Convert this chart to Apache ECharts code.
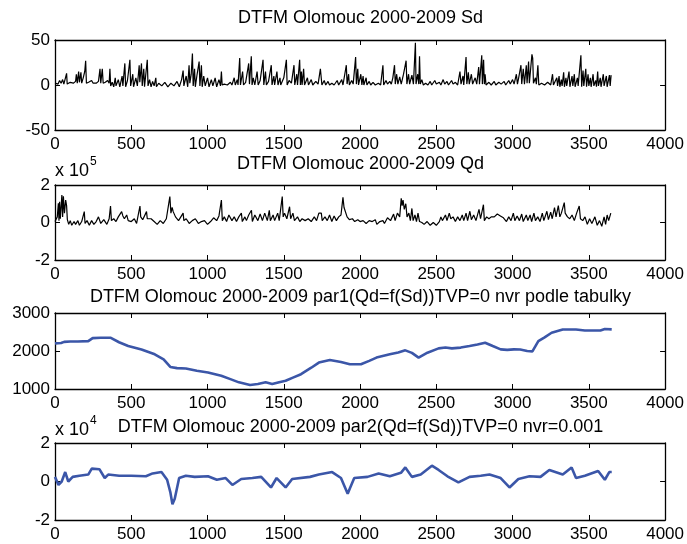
<!DOCTYPE html>
<html><head><meta charset="utf-8">
<script src="https://cdn.jsdelivr.net/npm/echarts@6/dist/echarts.min.js"></script>
<style>html,body{margin:0;padding:0;background:#fff}#c{width:687px;height:544px}</style>
</head><body><div id="c"></div>
<script>
// ---- data ----
const xTicks = [0, 500, 1000, 1500, 2000, 2500, 3000, 3500, 4000];
const titles = [
  'DTFM Olomouc 2000-2009 Sd',
  'DTFM Olomouc 2000-2009 Qd',
  'DTFM Olomouc 2000-2009 par1(Qd=f(Sd))TVP=0 nvr podle tabulky',
  'DTFM Olomouc 2000-2009 par2(Qd=f(Sd))TVP=0 nvr=0.001'
];
const sdTicks = [-50, 0, 50];
const qdTicks = [-2, 0, 2];      // x 10^5
const par1Ticks = [1000, 2000, 3000];
const par2Ticks = [-2, 0, 2];    // x 10^4

// Sd: [day, value]
const sd = [[0,2],[10,4],[20,1],[30,5],[40,2],[50,6],[58,1],[70,3],[76,13],[80,1],[100,3],[120,2],[135,4],[140,12],[146,2],[155,15],[160,3],[170,14],[175,2],[185,8],[195,15],[201,27],[206,2],[220,3],[240,5],[250,2],[270,2],[285,4],[295,18],[300,2],[310,18],[316,2],[330,3],[345,5],[355,2],[360,18],[365,-1],
[375,3],[385,-2],[395,8],[400,-1],[415,6],[425,-2],[440,10],[445,-1],[458,24],[463,-2],[475,5],[491,28],[496,-1],[510,12],[515,-2],[530,8],[540,-1],[552,22],[556,3],[567,24],[572,-1],[582,18],[587,-2],[605,28],[610,-1],[620,6],[630,-2],[640,4],[650,-1],[661,8],[665,-2],
[680,2],[700,-1],[720,3],[740,-2],[760,2],[780,-1],[800,4],[815,-2],[830,6],[840,16],[845,-1],[860,10],[870,-2],[879,22],[884,2],[893,12],[901,35],[906,-1],[915,18],[920,-2],[930,10],[945,26],[950,-1],[960,22],[965,-2],[975,10],[985,-1],[1000,8],[1010,-2],[1025,6],[1035,-1],[1050,8],[1060,-2],[1075,6],[1085,-1],[1091,15],[1096,0],
[1110,1],[1130,0],[1150,3],[1160,0],[1175,8],[1182,0],[1195,6],[1200,0],[1211,30],[1216,0],[1230,15],[1236,0],[1250,3],[1270,24],[1275,1],[1287,32],[1292,0],[1300,8],[1310,0],[1325,15],[1332,0],[1345,5],[1364,28],[1369,0],[1380,15],[1386,0],[1400,4],[1418,22],[1423,0],[1435,10],[1440,0],[1455,15],[1462,0],[1475,8],[1480,0],[1500,8],[1517,28],[1522,0],[1535,5],[1550,2],[1567,22],[1572,0],[1585,12],[1590,0],[1604,28],[1609,0],[1615,15],[1620,0],[1630,18],[1636,0],[1655,8],[1662,0],[1680,6],[1690,0],[1710,4],[1725,1],[1740,18],[1746,17],[1750,0],[1765,5],[1775,0],[1790,4],[1800,0],[1815,2],[1830,0],[1850,5],[1860,0],[1880,6],[1888,0],[1910,22],[1915,1],[1925,12],[1930,0],[1945,5],[1955,1],[1971,31],[1976,1],[1985,18],[1990,0],[2005,12],[2012,0],
[2020,10],[2025,0],[2040,8],[2045,0],[2060,4],[2070,0],[2085,3],[2100,0],[2120,2],[2135,0],[2150,22],[2155,0],[2170,5],[2180,1],[2195,4],[2205,1],[2215,8],[2226,22],[2231,1],[2240,12],[2248,1],[2260,9],[2270,1],[2285,12],[2302,27],[2307,1],[2318,12],[2325,1],[2340,11],[2350,1],[2363,47],[2367,1],[2378,12],[2385,1],[2390,32],[2395,1],[2405,6],[2415,0],[2430,2],[2445,0],
[2460,4],[2470,0],[2490,5],[2500,1],[2520,3],[2530,0],[2545,6],[2555,1],[2570,4],[2580,0],[2600,5],[2610,1],[2625,3],[2640,0],[2655,15],[2662,1],[2675,10],[2680,0],[2695,31],[2700,1],[2710,14],[2716,1],[2730,12],[2738,1],[2755,8],[2765,1],[2778,20],[2783,1],[2798,33],[2802,1],[2810,28],[2815,1],[2820,12],[2826,0],[2845,3],[2860,0],[2880,4],[2890,0],[2910,3],[2925,1],[2945,4],[2955,0],[2975,5],[2985,1],[3000,6],[3010,1],[3025,12],[3032,1],[3040,8],[3055,22],[3060,1],[3070,18],[3078,1],[3090,22],[3095,2],[3105,26],[3110,2],[3127,34],[3132,30],[3137,2],[3150,8],[3156,1],[3166,22],[3172,0],[3190,2],[3210,0],[3230,3],[3250,0],[3262,12],[3268,0],
[3280,-2],[3290,8],[3295,-1],[3305,10],[3310,-2],[3320,6],[3325,-1],[3335,14],[3340,-2],[3350,8],[3355,-1],[3370,15],[3376,-2],[3390,10],[3395,-1],[3405,12],[3410,-2],[3425,8],[3430,-1],[3448,33],[3453,-2],[3462,16],[3467,-1],[3480,18],[3485,-2],[3495,12],[3500,-1],[3510,8],[3515,-2],[3528,12],[3533,-1],[3545,5],[3550,-2],[3558,15],[3563,-1],[3575,8],[3580,-2],[3595,12],[3600,-1],[3615,10],[3620,-2],[3635,11],[3640,-1],[3646,11]];

// Qd (x 10^5): [day, value]
const qd = [[0,0.05],[8,-0.05],[15,0.3],[22,1.02],[26,0.1],[30,1.11],[35,0.2],[45,1.47],[50,0.3],[55,1.4],[62,0.5],[70,1.2],[76,0.9],[81,0.15],[90,-0.1],[100,0.1],[110,-0.15],[125,0.05],[135,-0.1],[150,0.1],[160,-0.15],[175,0.05],[192,0.58],[197,-0.05],[210,0.1],[225,-0.15],[240,0.1],[255,-0.1],[270,0.05],[285,0.3],[295,0.35],[300,-0.05],[320,0.15],[340,-0.1],[355,0.2],[364,0.88],[370,0.1],[385,0.2],[400,0.05],[415,0.3],[437,0.58],[445,0.35],[455,0.2],[470,0.4],[480,0.1],[500,0.05],[520,0.2],[535,-0.05],[557,0.88],[562,0.3],[575,0.15],[600,0.58],[605,0.2],[615,0.15],[630,0.2],[650,0.05],[670,-0.1],[690,0.1],[710,-0.05],[730,0.2],[753,1.38],[760,0.5],[768,0.8],[775,0.58],[790,0.3],[810,0.1],[840,0.5],[845,0.1],[860,0.2],[880,-0.05],[900,0.1],[920,0.2],[940,-0.05],[960,0.05],[980,0.1],[1000,-0.1],[1020,0.05],[1040,0.25],[1060,0.1],[1075,0.35],[1091,1.2],[1097,0.1],[1110,0.3],[1125,0.05],[1140,0.4],[1150,0.45],[1160,0.1],[1175,0.3],[1190,0.05],[1205,0.3],[1222,0.5],[1228,0.05],[1245,0.3],[1255,0.1],[1270,0.4],[1288,0.65],[1294,0.05],[1310,0.4],[1320,0.4],[1330,0.1],[1345,0.45],[1360,0.1],[1375,0.5],[1386,0.58],[1392,0.1],[1405,0.65],[1412,0.1],[1430,0.4],[1440,0.1],[1460,0.5],[1470,0.1],[1490,1.38],[1496,0.3],[1505,0.5],[1520,0.2],[1538,0.84],[1545,0.2],[1560,0.5],[1570,0.1],[1590,0.3],[1605,0.05],[1620,0.2],[1640,0.1],[1660,0.2],[1680,0.05],[1700,0.3],[1715,0.1],[1730,0.5],[1746,0.5],[1752,0.1],[1770,0.3],[1785,0.1],[1800,0.4],[1815,0.05],[1830,0.35],[1845,0.1],[1860,0.3],[1875,0.4],[1888,1.34],[1895,0.8],[1905,0.7],[1915,0.3],[1930,0.15],[1950,0.2],[1965,0.05],[1985,0.15],[2000,0.05],
[2020,0.1],[2040,-0.05],[2060,0.1],[2080,0.05],[2100,0.15],[2110,-0.1],[2130,0.05],[2150,0.1],[2160,-0.05],[2180,0.25],[2200,0.1],[2220,0.45],[2230,0.1],[2245,0.5],[2260,0.3],[2270,1.29],[2276,0.9],[2282,1.2],[2290,0.7],[2300,1.0],[2308,0.3],[2320,0.5],[2330,0.1],[2340,0.75],[2348,0.1],[2360,0.4],[2370,0.05],[2380,0.5],[2390,0.05],[2405,0.0],[2420,-0.1],[2440,0.05],[2460,-0.15],[2480,0.0],[2500,-0.15],[2520,0.05],[2530,0.3],[2540,0.1],[2560,0.4],[2570,0.1],[2585,0.5],[2595,0.2],[2610,0.3],[2625,0.05],[2640,0.3],[2655,0.1],[2670,0.4],[2680,0.1],[2695,0.5],[2705,0.1],[2720,0.6],[2730,0.15],[2745,0.4],[2760,0.1],[2780,0.7],[2790,0.2],[2809,0.95],[2815,0.1],[2830,0.3],[2845,0.2],[2860,0.3],[2880,0.3],[2900,0.45],[2920,0.35],[2940,0.25],[2960,0.05],[2975,0.3],[2990,0.1],[3005,0.5],[3015,0.1],[3030,0.35],[3045,0.1],[3060,0.45],[3070,0.05],[3090,0.4],[3100,0.1],[3115,0.4],[3125,0.05],[3140,0.5],[3150,0.1],[3165,0.3],[3180,0.05],[3195,0.5],[3205,0.1],[3225,0.6],[3235,0.15],[3250,0.55],[3260,0.2],[3275,0.8],[3285,0.3],[3300,0.9],[3310,0.3],[3320,0.5],[3339,1.06],[3345,0.5],[3360,0.3],[3375,0.2],[3390,0.4],[3405,0.1],[3420,0.5],[3437,0.88],[3445,0.2],[3460,0.1],[3475,0.3],[3490,-0.1],[3505,0.2],[3520,-0.05],[3540,0.3],[3555,-0.15],[3570,0.1],[3585,-0.2],[3600,0.3],[3610,-0.1],[3620,0.4],[3630,0.1],[3644,0.5]];

// par1: [day, value]
const par1 = [[0,2200],[40,2210],[60,2240],[73,2220],[100,2250],[150,2250],[218,2260],[247,2340],[300,2350],[363,2350],[420,2230],[480,2130],[567,2040],[654,1913],[712,1780],[756,1580],[800,1550],[858,1540],[930,1480],[1003,1435],[1090,1350],[1150,1260],[1206,1175],[1279,1105],[1330,1130],[1381,1175],[1424,1130],[1470,1180],[1512,1217],[1560,1300],[1613,1390],[1680,1560],[1730,1695],[1802,1765],[1875,1710],[1933,1650],[2006,1650],[2060,1740],[2108,1826],[2195,1913],[2250,1960],[2297,2017],[2340,1950],[2384,1826],[2442,1956],[2515,2070],[2560,2090],[2602,2070],[2660,2090],[2718,2130],[2770,2170],[2820,2218],[2870,2130],[2922,2043],[2965,2030],[3009,2043],[3050,2040],[3096,2000],[3130,1990],[3169,2260],[3210,2360],[3256,2480],[3329,2565],[3416,2565],[3474,2540],[3530,2540],[3576,2540],[3605,2580],[3650,2570]];

// par2 (x 10^4): [day, value]
const par2 = [[0,0.24],[23,-0.18],[44,0],[67,0.49],[87,0],[116,0.24],[160,0.3],[218,0.36],[241,0.67],[291,0.64],[326,0.18],[349,0.36],[421,0.3],[500,0.3],[596,0.27],[640,0.42],[698,0.49],[735,0.09],[756,-0.55],[770,-1.18],[785,-0.9],[814,0.18],[858,0.3],[916,0.24],[1003,0.27],[1061,0.09],[1119,0.18],[1163,-0.18],[1221,0.13],[1294,0.18],[1352,0.24],[1416,-0.31],[1453,0.18],[1512,-0.31],[1555,0.13],[1672,0.24],[1730,0.36],[1817,0.49],[1875,0.18],[1919,-0.64],[1933,-0.36],[1962,0.18],[2049,0.24],[2122,0.42],[2195,0.27],[2268,0.45],[2297,0.73],[2340,0.24],[2398,0.36],[2471,0.82],[2515,0.6],[2573,0.27],[2645,-0.05],[2718,0.24],[2791,0.3],[2849,0.36],[2922,0.18],[2980,-0.31],[3038,0.13],[3111,0.27],[3183,0.24],[3241,0.6],[3329,0.36],[3387,0.73],[3416,0.18],[3474,0.3],[3561,0.55],[3605,0.09],[3634,0.49],[3650,0.49]];

// ---- chart ----
const FONT = 'Liberation Sans, Arial, sans-serif';
const L = 55, W = 611;
const grids = [
  {top: 40, height: 90},
  {top: 185, height: 75},
  {top: 313, height: 76},
  {top: 443, height: 77}
];
const yRanges = [
  {min: sdTicks[0], max: sdTicks[2], interval: sdTicks[1]-sdTicks[0]},
  {min: qdTicks[0], max: qdTicks[2], interval: qdTicks[1]-qdTicks[0]},
  {min: par1Ticks[0], max: par1Ticks[2], interval: par1Ticks[1]-par1Ticks[0]},
  {min: par2Ticks[0], max: par2Ticks[2], interval: par2Ticks[1]-par2Ticks[0]}
];
const seriesData = [sd, qd, par1, par2];
const colors = ['#000000', '#000000', '#3b56a8', '#3b56a8'];
const widths = [1.2, 1.2, 2.6, 2.6];

const axisLineStyle = {show: true, onZero: false, lineStyle: {color: '#000', width: 1.3}};
const tickStyle = {show: true, inside: true, length: 5, lineStyle: {color: '#000', width: 1}};
const plain = v => String(v);

const xAxis = [], yAxis = [], series = [], gridOpt = [];
grids.forEach((g, i) => {
  gridOpt.push({left: L, width: W, top: g.top, height: g.height, show: false, containLabel: false});
  const xBase = {type: 'value', gridIndex: i, min: xTicks[0], max: xTicks[xTicks.length-1], interval: xTicks[1]-xTicks[0],
    axisLine: axisLineStyle, axisTick: tickStyle, splitLine: {show: false}};
  xAxis.push(Object.assign({}, xBase, {position: 'bottom',
    axisLabel: {show: true, color: '#000', fontFamily: FONT, fontSize: 17, margin: 6, formatter: plain}}));
  xAxis.push(Object.assign({}, xBase, {position: 'top', axisLabel: {show: false}}));
  const yBase = Object.assign({type: 'value', gridIndex: i, axisLine: axisLineStyle, axisTick: tickStyle, splitLine: {show: false}}, yRanges[i]);
  yAxis.push(Object.assign({}, yBase, {position: 'left',
    axisLabel: {show: true, color: '#000', fontFamily: FONT, fontSize: 17, margin: 5, formatter: plain}}));
  yAxis.push(Object.assign({}, yBase, {position: 'right', axisLabel: {show: false}}));
  series.push({type: 'line', xAxisIndex: 2*i, yAxisIndex: 2*i, data: seriesData[i], showSymbol: false, symbol: 'none',
    lineStyle: {color: colors[i], width: widths[i]}, silent: true, animation: false, z: 1});
  series.push({type: 'line', xAxisIndex: 2*i+1, yAxisIndex: 2*i+1, data: [], showSymbol: false});
});

const titleY = [18, 164, 297, 427];
const graphic = titles.map((t, i) => ({type: 'text', x: L + W/2, y: titleY[i],
  style: {text: t, fill: '#000', font: '18px ' + FONT, textAlign: 'center', textVerticalAlign: 'middle'}}));
// exponent labels
graphic.push({type: 'text', x: 55, y: 171, style: {text: 'x 10', fill: '#000', font: '18px ' + FONT, textAlign: 'left', textVerticalAlign: 'middle'}});
graphic.push({type: 'text', x: 90, y: 162, style: {text: '5', fill: '#000', font: '12px ' + FONT, textAlign: 'left', textVerticalAlign: 'middle'}});
graphic.push({type: 'text', x: 55, y: 430, style: {text: 'x 10', fill: '#000', font: '18px ' + FONT, textAlign: 'left', textVerticalAlign: 'middle'}});
graphic.push({type: 'text', x: 90, y: 421, style: {text: '4', fill: '#000', font: '12px ' + FONT, textAlign: 'left', textVerticalAlign: 'middle'}});

const chart = echarts.init(document.getElementById('c'), null, {renderer: 'canvas'});
chart.setOption({animation: false, backgroundColor: '#fff', grid: gridOpt, xAxis, yAxis, series, graphic});
</script></body></html>
